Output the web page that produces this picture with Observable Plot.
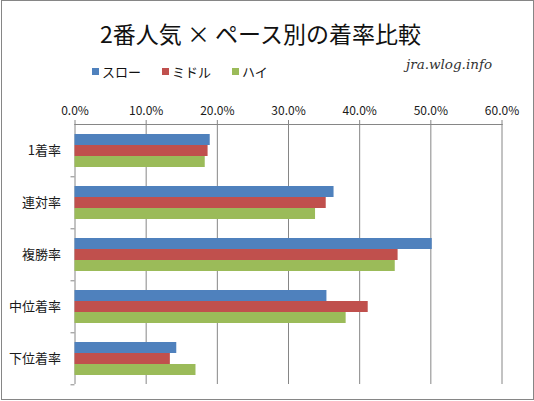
<!DOCTYPE html>
<html>
<head>
<meta charset="utf-8">
<script src="https://cdn.jsdelivr.net/npm/d3@7"></script>
<script src="https://cdn.jsdelivr.net/npm/@observablehq/plot@0.6"></script>
<style>
  body { margin: 0; background: #fff; }
  #wrap { position: relative; width: 534px; height: 401px; background: #fff; overflow: hidden;
          font-family: "Noto Sans CJK JP", "Noto Sans", sans-serif; }
  #chart { position: absolute; left: 0; top: 0; }
  #border { position: absolute; left: 1px; top: 0px; width: 533px; height: 400px; box-sizing: border-box;
            border: 1px solid #868686; pointer-events: none; }
  #title { position: absolute; left: 0; width: 521px; top: 19px; text-align: center; font-size: 23px;
           line-height: 28px; color: #111; }
  #legend { position: absolute; left: 92px; top: 55px; }
  #legend span[class$="-swatch"] { margin-right: 21px !important; }
  #legend svg { margin-right: 3px !important; }
  #site { position: absolute; left: 406px; top: 56px; font-family: "DejaVu Serif", serif; font-style: italic;
          font-size: 13.5px; color: #333; }
</style>
</head>
<body>
<div id="wrap">
  <div id="chart"></div>
  <div id="title">2番人気 × ペース別の着率比較</div>
  <div id="legend"></div>
  <div id="site">jra.wlog.info</div>
  <div id="border"></div>
</div>
<script>
const categories = ["1着率", "連対率", "複勝率", "中位着率", "下位着率"]
const series = ["スロー", "ミドル", "ハイ"]
const colors = ["#4F81BD", "#C0504D", "#9BBB59"]
const slow = [19.0, 36.4, 50.2, 35.4, 14.3]
const middle = [18.7, 35.3, 45.4, 41.2, 13.4]
const high = [18.3, 33.8, 45.0, 38.1, 17.0]
const xTicks = [0, 10, 20, 30, 40, 50, 60]

const values = [slow, middle, high]
const data = []
categories.forEach((c, i) => {
  series.forEach((s, j) => data.push({category: c, series: s, value: values[j][i]}))
})

const W = 534, H = 401, mTop = 122, mBottom = 16
const step = (H - mTop - mBottom) / categories.length

let chart = Plot.plot({
  width: W,
  height: H,
  marginTop: mTop,
  marginBottom: mBottom,
  marginLeft: 74.5,
  marginRight: 32.5,
  style: {
    background: "transparent",
    color: "#1a1a1a",
    fontFamily: "'Noto Sans CJK JP', sans-serif",
    fontSize: "12px",
  },
  x: {domain: [0, 60]},
  y: {domain: series, paddingInner: 0, paddingOuter: 0.75, axis: null},
  fy: {domain: categories, padding: 0},
  color: {domain: series, range: colors},
  marks: [
    Plot.gridX(xTicks, {stroke: "#868686", strokeOpacity: 1}),
    Plot.frame({anchor: "top", facetAnchor: "top", stroke: "#868686"}),
    Plot.axisX(xTicks, {
      anchor: "top",
      tickSize: 5,
      tickPadding: 5,
      stroke: "#868686",
      tickFormat: (d) => d.toFixed(1) + "%",
      label: null
    }),
    Plot.axisFy({anchor: "left", tickSize: 4, text: null, dy: step / 2, stroke: "#868686", label: null}),
    Plot.axisFy({anchor: "left", tickSize: 0, tickPadding: 14, fontSize: 13, label: null}),
    Plot.barX(data, {x: "value", y: "series", fy: "category", fill: "series"}),
  ]
})
d3.select("#chart").append(() => chart)

let legend = Plot.legend({
  color: {domain: series, range: colors},
  legend: "swatches",
  swatchSize: 7,
  style: {fontFamily: "'Noto Sans CJK JP', sans-serif", fontSize: "13px", color: "#111"}
})
d3.select("#legend").append(() => legend)
</script>
</body>
</html>
